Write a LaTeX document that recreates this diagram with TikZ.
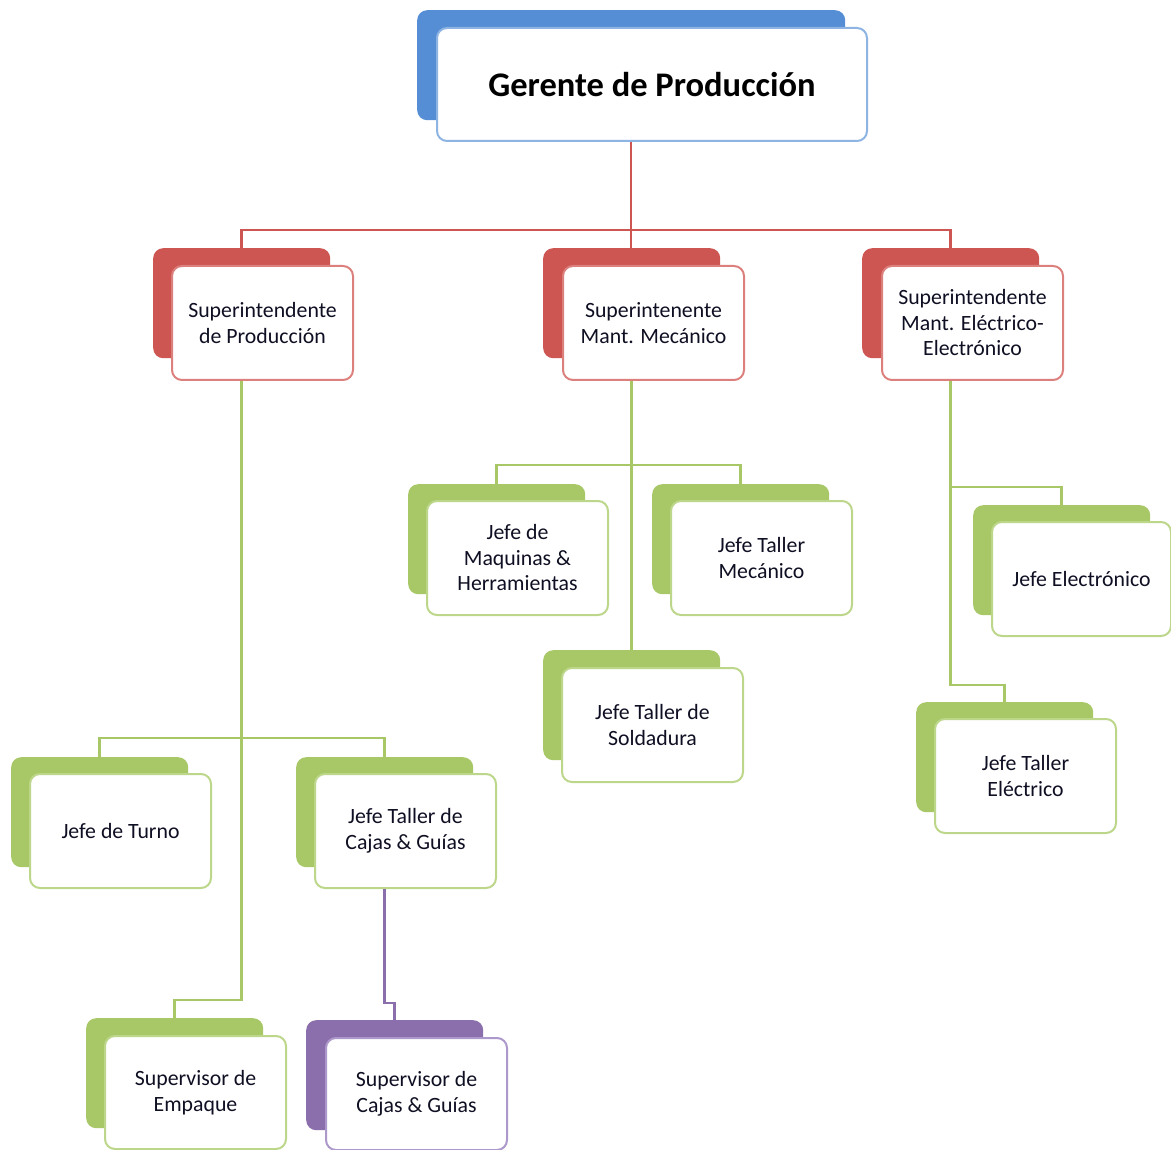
\documentclass[tikz,border=0pt]{standalone}
\usepackage{fontspec}
\setmainfont{Carlito}
\definecolor{cblue}{RGB}{85,142,213}
\definecolor{cbluel}{RGB}{141,180,226}
\definecolor{cred}{RGB}{205,86,83}
\definecolor{credl}{RGB}{220,128,125}
\definecolor{cgreen}{RGB}{168,200,104}
\definecolor{cgreenl}{RGB}{188,214,138}
\definecolor{cpurp}{RGB}{139,110,172}
\definecolor{cpurpl}{RGB}{172,152,202}
\definecolor{ctext}{RGB}{15,15,35}
\tikzset{
 backtab/.style={rectangle, rounded corners=10pt, fill=#1, draw=none, minimum width=177pt, minimum height=110pt, anchor=north west, inner sep=0pt},
 frontbox/.style={rectangle, rounded corners=10pt, fill=white, draw=#1, line width=2pt, minimum width=181pt, minimum height=114pt, anchor=north west, inner sep=0pt, align=center, font=\fontsize{21.8}{25.5}\selectfont, text=ctext},
 link/.style={line width=2.5pt, draw=#1},
}
\begin{document}
\begin{tikzpicture}[x=1pt,y=-1pt]
\useasboundingbox (0,0) rectangle (1171,1150);
% helper coordinates
\coordinate (y1000) at (0,1000);
\coordinate (y1003) at (0,1003);
\coordinate (y685) at (0,685);
\coordinate (y487) at (0,487);
% back tabs
\node[backtab=cblue, minimum width=428pt] (gpb) at (417,10) {};
\node[backtab=cred] (spb) at (153,248) {};
\node[backtab=cred] (smb) at (543,248) {};
\node[backtab=cred] (seb) at (862,248) {};
\node[backtab=cgreen] (jmb) at (408,484) {};
\node[backtab=cgreen] (jtb) at (652,484) {};
\node[backtab=cgreen] (jsb) at (543,650) {};
\node[backtab=cgreen] (jeb) at (973,505) {};
\node[backtab=cgreen] (jteb) at (916,702) {};
\node[backtab=cgreen] (jtub) at (11,757) {};
\node[backtab=cgreen] (jcb) at (296,757) {};
\node[backtab=cgreen] (seeb) at (86,1018) {};
\node[backtab=cpurp] (scb) at (306,1020) {};
% front boxes
\node[frontbox=cbluel, minimum width=430pt, minimum height=113pt, font=\fontsize{34.5}{40}\selectfont\bfseries, text=black] (gp) at (436,27) {Gerente de Producción};
\node[frontbox=credl] (sp) at (171,265) {Superintendente\\de Producción};
\node[frontbox=credl] (sm) at (562,265) {Superintenente\\Mant. Mecánico};
\node[frontbox=credl] (se) at (881,265) {Superintendente\\Mant. Eléctrico-\\Electrónico};
\node[frontbox=cgreenl] (jm) at (426,500) {Jefe de\\Maquinas \&\\Herramientas};
\node[frontbox=cgreenl] (jt) at (670,500) {Jefe Taller\\Mecánico};
\node[frontbox=cgreenl] (js) at (561,667) {Jefe Taller de\\Soldadura};
\node[frontbox=cgreenl, minimum width=179pt] (je) at (991,521) {Jefe Electrónico};
\node[frontbox=cgreenl] (jte) at (934,718) {Jefe Taller\\Eléctrico};
\node[frontbox=cgreenl] (jtu) at (29,773) {Jefe de Turno};
\node[frontbox=cgreenl] (jc) at (314,773) {Jefe Taller de\\Cajas \& Guías};
\node[frontbox=cgreenl, minimum height=113pt] (see) at (104,1035) {Supervisor de\\Empaque};
\node[frontbox=cpurpl, minimum height=112pt] (sc) at (325,1037) {Supervisor de\\Cajas \& Guías};
% connectors
\draw[link=cred] (gpb.north |- gp.south) -- (gpb.north |- smb.north);
\draw[link=cred] (spb.north) -- ++(0,-18) -| (seb.north);
\draw[link=cgreen] (spb.north |- sp.south) -- (spb.north |- y1000) -| (seeb.north);
\draw[link=cgreen] (jtub.north) -- ++(0,-19) -| (jcb.north);
\draw[link=cgreen] (smb.north |- sm.south) -- (smb.north |- jsb.north);
\draw[link=cgreen] (jmb.north) -- ++(0,-19) -| (jtb.north);
\draw[link=cgreen] (seb.north |- se.south) -- (seb.north |- y685) -| (jteb.north);
\draw[link=cgreen] (seb.north |- y487) -| (jeb.north);
\draw[link=cpurp] (jcb.north |- jc.south) -- (jcb.north |- y1003) -| (scb.north);
\end{tikzpicture}
\end{document}
